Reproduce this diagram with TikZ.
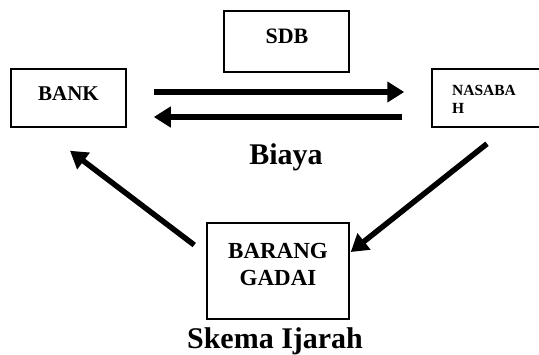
\documentclass[tikz,border=0pt]{standalone}
\usepackage{fontspec}
\setmainfont{Liberation Serif}
\usetikzlibrary{arrows.meta}
\begin{document}
\begin{tikzpicture}[x=1pt,y=-1pt,
  box/.style={draw=black, line width=1.5pt, rectangle, inner sep=0pt},
  lbl/.style={inner sep=0pt, font=\bfseries},
  arr/.style={line width=5.5pt, -{Triangle[length=17pt,width=20pt]}}]
\clip (0,0) rectangle (539,354);
\fill[white] (0,0) rectangle (539,354);
% boxes
\node[box, minimum width=115pt, minimum height=58pt] (bank) at (68.5,98) {};
\node[box, minimum width=125pt, minimum height=61pt] (sdb) at (286.5,41.5) {};
\node[box, minimum width=113pt, minimum height=58pt] (nasabah) at (488.5,98) {};
\node[box, minimum width=142pt, minimum height=96pt] (barang) at (278,271) {};
% labels
\node[lbl, anchor=base, font=\bfseries\fontsize{21}{25}\selectfont] (banktxt) at (68.5,100) {BANK};
\node[lbl, anchor=base, font=\bfseries\fontsize{22}{26}\selectfont] (sdbtxt) at (287,43) {SDB};
\node[lbl, anchor=north west, align=left, font=\bfseries\fontsize{15.5}{18}\selectfont] (nasabahtxt) at (452,85.5) {NASABA\\H};
\node[lbl, anchor=north, align=center, font=\bfseries\fontsize{23}{27}\selectfont] (barangtxt) at (278,242.8) {BARANG\\GADAI};
\node[lbl, anchor=base, font=\bfseries\fontsize{30}{34}\selectfont] (biaya) at (286,164) {Biaya};
\node[lbl, anchor=base, font=\bfseries\fontsize{30}{34}\selectfont] (skema) at (275,348) {Skema Ijarah};
% connectors
\draw[arr] ([xshift=27pt,yshift=6pt]bank.east) -- ([xshift=-27pt,yshift=6pt]nasabah.west);
\draw[arr] ([xshift=-29pt,yshift=-19pt]nasabah.west) -- ([xshift=27pt,yshift=-19pt]bank.east);
\draw[arr] ([xshift=-1.5pt,yshift=-16pt]nasabah.south) -- ([xshift=1pt,yshift=19pt]barang.east);
\draw[arr] ([xshift=-12pt,yshift=26pt]barang.west) -- ([xshift=1.5pt,yshift=-23pt]bank.south);
\end{tikzpicture}
\end{document}
